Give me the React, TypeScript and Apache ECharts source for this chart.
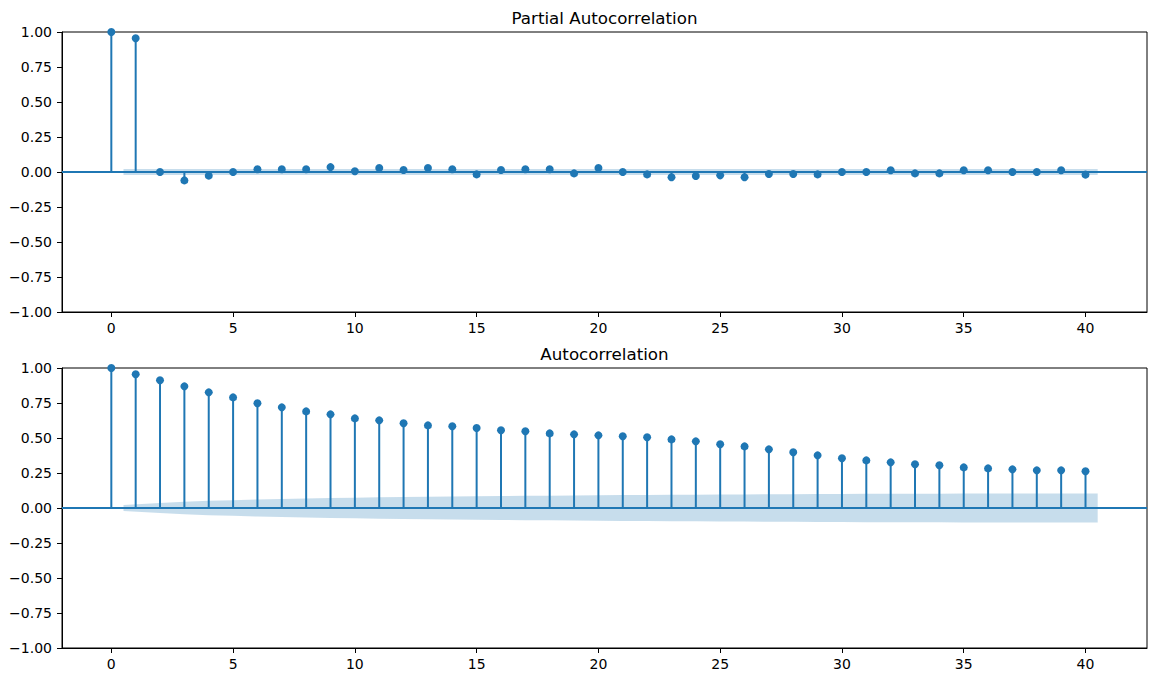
import React, { useEffect, useRef } from "react";
import * as echarts from "echarts";

const lags = Array.from({ length: 41 }, (_, i) => i);

const pacfValues = [
  1.0, 0.955, 0.0, -0.06, -0.026, 0.0, 0.02, 0.02, 0.02, 0.035, 0.005, 0.028, 0.014, 0.028,
  0.02, -0.017, 0.014, 0.02, 0.02, -0.01, 0.028, 0.0, -0.017, -0.038, -0.029, -0.024, -0.038,
  -0.014, -0.014, -0.017, 0.0, 0.0, 0.012, -0.01, -0.01, 0.012, 0.012, 0.0, 0.0, 0.012, -0.019,
];

const acfValues = [
  1.0, 0.955, 0.912, 0.869, 0.826, 0.79, 0.748, 0.719, 0.69, 0.669, 0.64, 0.626, 0.605, 0.59,
  0.584, 0.571, 0.555, 0.548, 0.533, 0.526, 0.519, 0.512, 0.505, 0.49, 0.476, 0.455, 0.44,
  0.419, 0.398, 0.376, 0.355, 0.34, 0.326, 0.312, 0.305, 0.29, 0.283, 0.276, 0.269, 0.269, 0.262,
];

// confidence band half-widths for lags 1..40
const pacfBand = [
  0.021, 0.021, 0.021, 0.021, 0.021, 0.021, 0.021, 0.021, 0.021, 0.021, 0.021, 0.021, 0.021,
  0.021, 0.021, 0.021, 0.021, 0.021, 0.021, 0.021, 0.021, 0.021, 0.021, 0.021, 0.021, 0.021,
  0.021, 0.021, 0.021, 0.021, 0.021, 0.021, 0.021, 0.021, 0.021, 0.021, 0.021, 0.021, 0.021, 0.021,
];
const acfBand = [
  0.021, 0.035, 0.044, 0.051, 0.056, 0.061, 0.065, 0.068, 0.071, 0.074, 0.076, 0.078, 0.08,
  0.082, 0.084, 0.085, 0.087, 0.088, 0.09, 0.091, 0.092, 0.093, 0.094, 0.095, 0.096, 0.097,
  0.098, 0.099, 0.1, 0.1, 0.101, 0.101, 0.102, 0.102, 0.103, 0.103, 0.103, 0.104, 0.104, 0.104,
];
// band x positions: lags 1..40, ends widened by half a lag
const bandLags = lags.slice(1).map((l, i, arr) => (i === 0 ? l - 0.5 : i === arr.length - 1 ? l + 0.5 : l));

const xTicks = [0, 5, 10, 15, 20, 25, 30, 35, 40];
const titles = ["Partial Autocorrelation", "Autocorrelation"];

const BLUE = "#1f77b4";
const FONT = "DejaVu Sans";

export default function App() {
  const ref = useRef<HTMLDivElement>(null);
  useEffect(() => {
    document.body.style.margin = "0";
    const chart = echarts.init(ref.current!, null, { renderer: "svg" });
    const panels = [
      { values: pacfValues, band: pacfBand, top: 32 },
      { values: acfValues, band: acfBand, top: 368 },
    ];
    const grids: any[] = [];
    const xAxes: any[] = [];
    const yAxes: any[] = [];
    const series: any[] = [];
    const graphics: any[] = [];
    panels.forEach((p, idx) => {
      grids.push({
        left: 62,
        right: 10,
        top: p.top,
        height: 280,
        show: true,
        borderColor: "#000",
        borderWidth: 1,
        backgroundColor: "transparent",
      });
      xAxes.push({
        type: "value",
        gridIndex: idx,
        min: -2.025,
        max: 42.525,
        splitLine: { show: false },
        axisLine: { show: true, onZero: false, lineStyle: { color: "#000", width: 1 } },
        axisTick: { show: true, length: 5, customValues: xTicks, lineStyle: { color: "#000" } },
        axisLabel: {
          customValues: xTicks,
          color: "#000",
          fontFamily: FONT,
          fontSize: 14,
          margin: 9,
        },
      });
      yAxes.push({
        type: "value",
        gridIndex: idx,
        min: -1,
        max: 1,
        interval: 0.25,
        splitLine: { show: false },
        axisLine: { show: true, onZero: false, lineStyle: { color: "#000", width: 1 } },
        axisTick: { show: true, length: 5, lineStyle: { color: "#000" } },
        axisLabel: {
          color: "#000",
          fontFamily: FONT,
          fontSize: 14,
          margin: 10,
          formatter: (v: number) => (v < 0 ? "\u2212" : "") + Math.abs(v).toFixed(2),
        },
      });
      // stems
      series.push({
        type: "custom",
        xAxisIndex: idx,
        yAxisIndex: idx,
        data: lags.map((l, i) => [l, p.values[i]]),
        renderItem: (params: any, api: any) => {
          const x = api.value(0);
          const y = api.value(1);
          const a = api.coord([x, 0]);
          const b = api.coord([x, y]);
          return {
            type: "line",
            shape: { x1: a[0], y1: a[1], x2: b[0], y2: b[1] },
            style: { stroke: BLUE, lineWidth: 2 },
          };
        },
        z: 2,
      });
      // markers + zero line
      series.push({
        type: "scatter",
        xAxisIndex: idx,
        yAxisIndex: idx,
        data: lags.map((l, i) => [l, p.values[i]]),
        symbol: "circle",
        symbolSize: 8,
        itemStyle: { color: BLUE, opacity: 1 },
        z: 3,
        markLine: {
          silent: true,
          symbol: "none",
          label: { show: false },
          lineStyle: { color: BLUE, width: 2, type: "solid" },
          data: [{ yAxis: 0 }],
          z: 2,
        },
      });
      // confidence band
      series.push({
        type: "custom",
        xAxisIndex: idx,
        yAxisIndex: idx,
        data: [[0, 0]],
        renderItem: (params: any, api: any) => {
          const upper = bandLags.map((x, i) => api.coord([x, p.band[i]]));
          const lower = bandLags.map((x, i) => api.coord([x, -p.band[i]])).reverse();
          return {
            type: "polygon",
            shape: { points: upper.concat(lower) },
            style: { fill: "rgba(31,119,180,0.25)", stroke: "none" },
          };
        },
        z: 4,
      });
      graphics.push({
        type: "text",
        x: 604.5,
        y: p.top - 14.5,
        style: {
          text: titles[idx],
          fill: "#000",
          font: `16.7px "${FONT}"`,
          textAlign: "center",
          textVerticalAlign: "middle",
        },
      });
    });
    chart.setOption({
      animation: false,
      grid: grids,
      xAxis: xAxes,
      yAxis: yAxes,
      series,
      graphic: graphics,
    });
    return () => chart.dispose();
  }, []);
  return <div ref={ref} style={{ width: 1157, height: 682 }} />;
}
